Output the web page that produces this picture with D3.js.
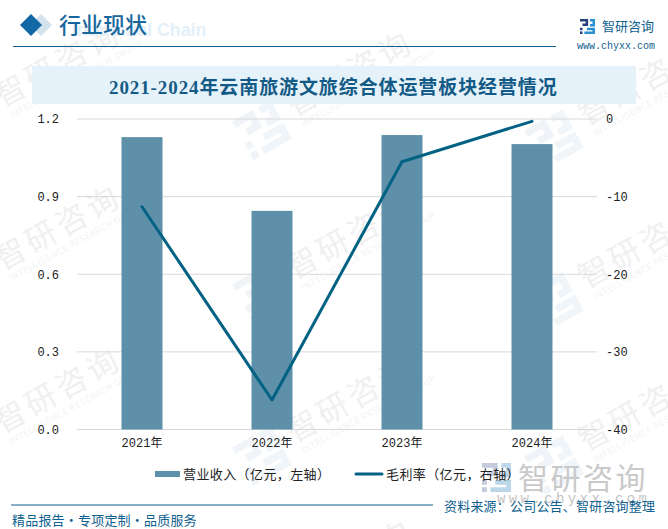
<!DOCTYPE html>
<html>
<head>
<meta charset="utf-8">
<script src="https://cdn.jsdelivr.net/npm/d3@7"></script>
<style>
html, body { margin: 0; padding: 0; background: #fff; }
svg { display: block; }
text { font-family: "Liberation Serif", "Noto Sans CJK SC", sans-serif; }
</style>
</head>
<body>
<svg id="chart" width="668" height="529"></svg>
<script>
const years = ["2021年", "2022年", "2023年", "2024年"]
const revenue = [1.13, 0.845, 1.138, 1.103]
const margin = [-11.3, -36.2, -5.5, -0.3]
const leftTicks = [0, 0.3, 0.6, 0.9, 1.2]
const rightTicks = [0, -10, -20, -30, -40]
// watermark tile grid
const markCols = [0, 1, 2]
const markRows = [0, 1, 2, 3]

const svg = d3.select("#chart")
const sans = '"Noto Sans CJK SC", sans-serif'
const mono = '"Liberation Mono", "Noto Sans CJK SC", monospace'
const blue = "#0f5f8f"

// scales
const x = d3.scaleBand().domain(years).range([77, 597])
const yLeft = d3.scaleLinear().domain([0, 1.2]).range([429.5, 119])
const yRight = d3.scaleLinear().domain([-40, 0]).range([429.5, 119])

// logo shape, reused in the watermark and the corner
function logo(g, size, dark, light) {
  const s = size / 24
  const parts = [
    { d: "M0 0H13V11H4V7H9V4H0Z", c: dark },
    { d: "M0 14H4V18H0Z", c: dark },
    { d: "M0 20H4V24H0Z", c: dark },
    { d: "M16 0H24V12H16V8H20V4H16Z", c: light },
    { d: "M11 14H24V24H7V20H20V18H11Z", c: light }
  ]
  g.selectAll("path.logo").data(parts).enter().append("path")
    .attr("class", "logo")
    .attr("d", d => d.d)
    .attr("transform", `scale(${s})`)
    .attr("fill", d => d.c)
}

// watermark
const marks = svg.append("g")
markRows.forEach(r => {
  markCols.forEach(c => {
    const ox = 2 + c * 292
    const oy = 108 + r * 163 + c * 9
    const g = marks.append("g").attr("transform", `translate(${ox},${oy}) rotate(-29)`)
    g.append("text")
      .attr("font-size", 31).attr("fill", "#f0f0f0").attr("letter-spacing", 4)
      .style("font-family", sans)
      .text("智研咨询")
    g.append("text")
      .attr("x", 3).attr("y", 14).attr("font-size", 9).attr("fill", "#f3f3f3").attr("letter-spacing", 0.4)
      .style("font-family", sans)
      .text("INTELLIGENCE RESEARCH GROUP")
    const l = marks.append("g")
      .attr("transform", `translate(${ox + 260},${oy + 22}) rotate(-29) translate(-22,-22)`)
    logo(l, 44, "#f0f4f8", "#f0f5fa")
  })
})

// header
svg.append("text").attr("x", 72).attr("y", 36).attr("font-size", 17.8).attr("font-weight", 700)
  .attr("fill", "#e3f0fa").style("font-family", "Liberation Sans").text("Industrial Chain")
svg.append("path").attr("d", d3.line()([[41, 14], [52, 25], [41, 36], [30, 25]])).attr("fill", "#d3e3ee")
svg.append("path").attr("d", d3.line()([[31, 14], [42, 25], [31, 36], [20, 25]])).attr("fill", "#1269a6")
svg.append("text").attr("x", 59).attr("y", 33).attr("font-size", 22).attr("font-weight", 500)
  .attr("fill", "#17679c").style("font-family", sans).text("行业现状")
svg.append("line").attr("x1", 13).attr("x2", 556).attr("y1", 46.5).attr("y2", 46.5)
  .attr("stroke", blue).attr("stroke-width", 1)

const corner = svg.append("g").attr("transform", "translate(580,19)")
logo(corner, 15, "#24407f", "#2b8fd0")
svg.append("text").attr("x", 602).attr("y", 31).attr("font-size", 13)
  .attr("fill", blue).style("font-family", sans).text("智研咨询")
svg.append("text").attr("x", 577).attr("y", 49).attr("font-size", 10)
  .attr("fill", blue).style("font-family", mono).text("www.chyxx.com")

// title band
svg.append("rect").attr("x", 32).attr("y", 66).attr("width", 604).attr("height", 38).attr("fill", "#e6f2fa")
const title = svg.append("text").attr("x", 109).attr("y", 94)
  .attr("font-size", 19).attr("font-weight", 700).attr("fill", "#135b86")
title.append("tspan").attr("letter-spacing", 0.9).text("2021-2024")
title.append("tspan").attr("letter-spacing", 0.9).text("年云南旅游文旅综合体运营板块经营情况")

// gridlines
svg.append("g").selectAll("line").data(leftTicks).enter().append("line")
  .attr("x1", 77).attr("x2", 597)
  .attr("y1", d => yLeft(d)).attr("y2", d => yLeft(d))
  .attr("stroke", "#d9d9d9").attr("stroke-width", 1)

// bars
svg.append("g").selectAll("rect").data(revenue).enter().append("rect")
  .attr("x", (d, i) => x(years[i]) + x.bandwidth() / 2 - 20.5)
  .attr("width", 41)
  .attr("y", d => yLeft(d))
  .attr("height", d => yLeft(0) - yLeft(d))
  .attr("fill", "#5e91a9")

// line
const line = d3.line()
  .x((d, i) => x(years[i]) + x.bandwidth() / 2)
  .y(d => yRight(d))
svg.append("path").datum(margin)
  .attr("d", line)
  .attr("fill", "none").attr("stroke", "#036284").attr("stroke-width", 3)
  .attr("stroke-linecap", "round").attr("stroke-linejoin", "round")

// axes
const axisLeft = svg.append("g").attr("transform", "translate(59,0)")
  .call(d3.axisLeft(yLeft).tickValues(leftTicks).tickFormat(d3.format(".1f")).tickSize(0).tickPadding(0))
const axisRight = svg.append("g").attr("transform", "translate(606,0)")
  .call(d3.axisRight(yRight).tickValues(rightTicks).tickSize(0).tickPadding(0).tickFormat(d => d))
const axisBottom = svg.append("g").attr("transform", "translate(0,429.5)")
  .call(d3.axisBottom(x).tickSize(0).tickPadding(9))
;[axisLeft, axisRight, axisBottom].forEach(a => {
  a.select(".domain").remove()
  a.selectAll("text").attr("font-size", 12).attr("fill", "#222").style("font-family", mono)
})

// big logo sits under the legend end
const bigMark = svg.append("g").attr("transform", "translate(482,463)")
logo(bigMark, 29, "#c3cbdc", "#bcd6ea")
svg.append("text").attr("x", 518).attr("y", 489).attr("font-size", 30).attr("letter-spacing", 2.5)
  .attr("fill", "#c9c9c9").style("font-family", sans).text("智研咨询")
svg.append("text").attr("x", 497).attr("y", 503).attr("font-size", 14).attr("letter-spacing", 3.4)
  .attr("fill", "#c4c4c4").style("font-family", mono).text("www.chyxx.com")

// legend
const legendFont = 13
svg.append("rect").attr("x", 155).attr("y", 471).attr("width", 25).attr("height", 6).attr("fill", "#5e91a9")
svg.append("text").attr("x", 183).attr("y", 479).attr("font-size", legendFont).attr("fill", "#222")
  .attr("letter-spacing", 0.4).style("font-family", sans).text("营业收入（亿元，左轴）")
svg.append("line").attr("x1", 356).attr("x2", 382).attr("y1", 474).attr("y2", 474)
  .attr("stroke", "#036284").attr("stroke-width", 3).attr("stroke-linecap", "round")
svg.append("text").attr("x", 386).attr("y", 479).attr("font-size", legendFont).attr("fill", "#222")
  .attr("letter-spacing", 0.4).style("font-family", sans).text("毛利率（亿元，右轴）")

// footer
svg.append("line").attr("x1", 11).attr("x2", 433).attr("y1", 505).attr("y2", 505)
  .attr("stroke", blue).attr("stroke-width", 1)
svg.append("text").attr("x", 12).attr("y", 525).attr("font-size", 13).attr("letter-spacing", 0.2)
  .attr("fill", blue).style("font-family", sans).text("精品报告·专项定制·品质服务")
svg.append("text").attr("x", 444).attr("y", 511).attr("font-size", 13).attr("letter-spacing", 0.2)
  .attr("fill", blue).style("font-family", sans).text("资料来源：公司公告、智研咨询整理")
</script>
</body>
</html>
